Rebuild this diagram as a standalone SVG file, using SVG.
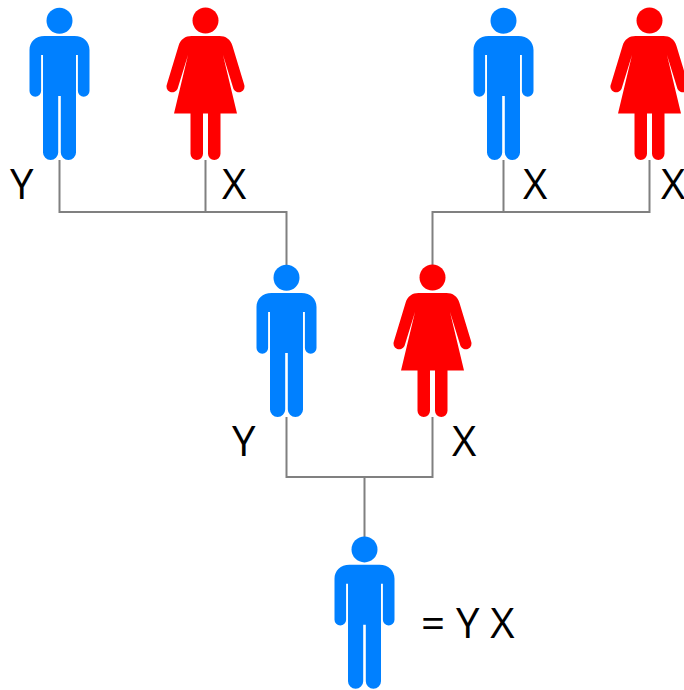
<svg xmlns="http://www.w3.org/2000/svg" width="684" height="690" viewBox="0 0 684 690">
<style>
.lbl{font-family:"Open Sans","Liberation Sans",sans-serif;font-size:42px;fill:#000}
.wire{fill:none;stroke:#808080;stroke-width:2}
.man{fill:#0080ff}
.woman{fill:#ff0000}
</style>
<defs>
<g id="man-shape">
<circle cx="0" cy="20.7" r="13"/>
<path d="M-15 36H15C24 36 30 42 30 50V91A5.800 5.800 0 0 1 18.400 91V55H16.500V152.500A7.600 7.600 0 0 1 1.300 152.500V96H-1.300V152.500A7.600 7.600 0 0 1-16.500 152.500V55H-18.400V91A5.800 5.800 0 0 1-30 91V50C-30 42-24 36-15 36Z"/>
</g>
<g id="woman-shape">
<circle cx="0" cy="20.500" r="13"/>
<path d="M-14 36H14C20 36 25 39 27 46L38.500 84A5.600 5.600 0 0 1 28 89L17.500 55L31.500 113.500H15V153.800A6.250 6.250 0 0 1 2.500 153.800V113.500H-2.500V153.800A6.250 6.250 0 0 1-15 153.800V113.500H-31.500L-17.500 55L-28 89A5.600 5.600 0 0 1-38.500 84L-27 46C-25 39-20 36-14 36Z"/>
</g>
</defs>
<g id="connectors" class="wire">
<path d="M59.500 160V212H286.500V266M205.500 160V212M649.500 160V212H432.500V266M503.500 160V212"/>
<path d="M286.500 417V477H432.500V417M364.500 477V538"/>
</g>
<g id="gf1" class="man"><use href="#man-shape" x="59.500" y="0"/></g>
<g id="gm1" class="woman"><use href="#woman-shape" x="205.500" y="0"/></g>
<g id="gf2" class="man"><use href="#man-shape" x="503.500" y="0"/></g>
<g id="gm2" class="woman"><use href="#woman-shape" x="649.500" y="0"/></g>
<g id="father" class="man"><use href="#man-shape" x="286.500" y="257"/></g>
<g id="mother" class="woman"><use href="#woman-shape" x="432.500" y="257"/></g>
<g id="son" class="man"><use href="#man-shape" x="364.500" y="528.700"/></g>
<g id="labels">
<text class="lbl" x="10" y="199">Y</text>
<text class="lbl" x="222" y="199">X</text>
<text class="lbl" x="523" y="199">X</text>
<text class="lbl" x="661" y="199">X</text>
<text class="lbl" x="232" y="456">Y</text>
<text class="lbl" x="452" y="456">X</text>
<text class="lbl" x="421" y="638">= Y X</text>
</g>
</svg>
